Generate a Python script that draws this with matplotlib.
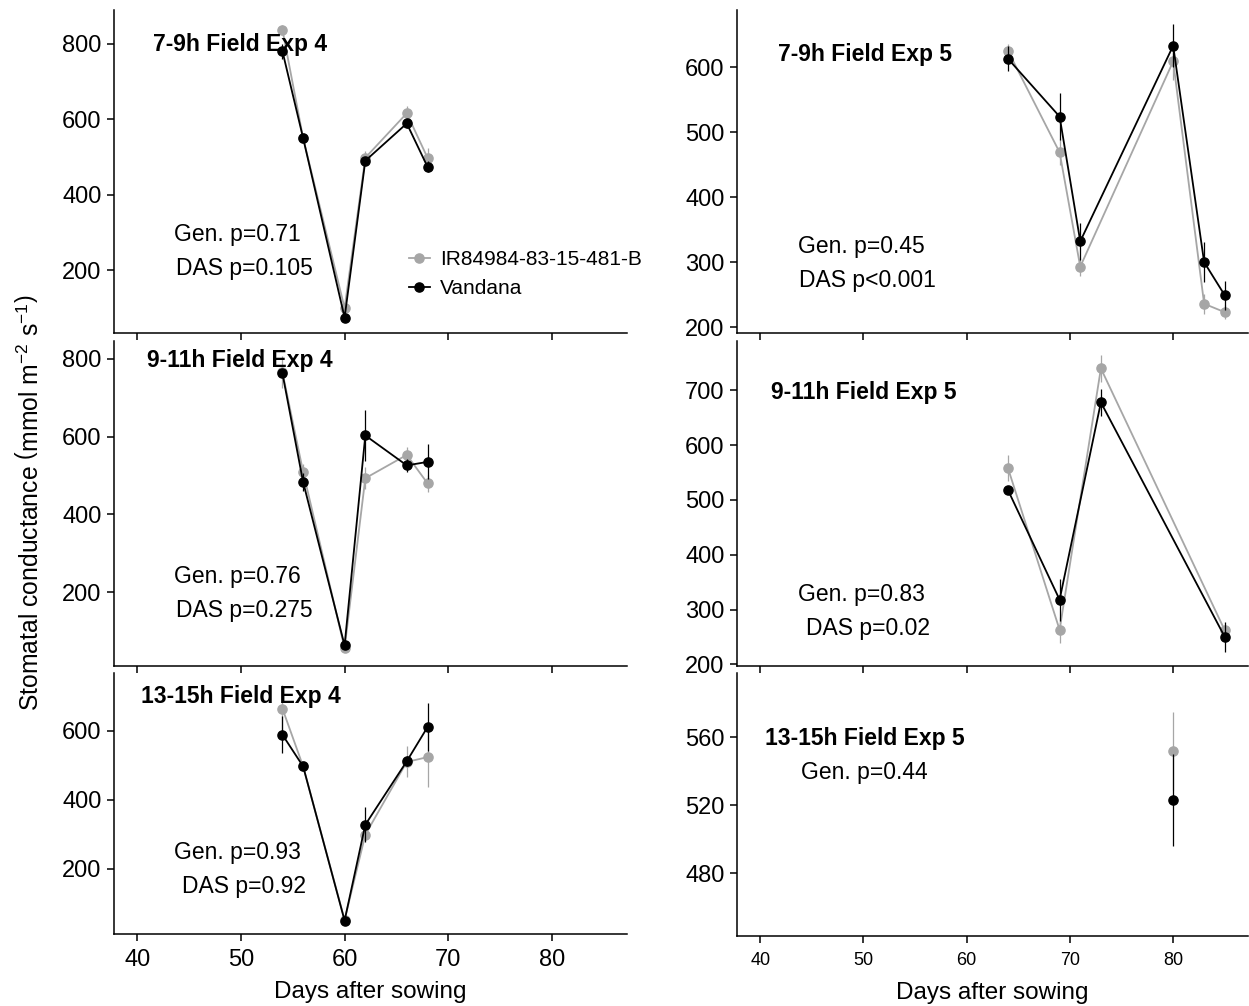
import matplotlib
matplotlib.use("Agg")
import matplotlib.pyplot as plt

plt.rcParams['font.family'] = ['Liberation Sans', 'DejaVu Sans']
plt.rcParams['mathtext.fontset'] = 'custom'
plt.rcParams['mathtext.rm'] = 'Liberation Sans'
plt.rcParams['mathtext.it'] = 'Liberation Sans:italic'

GRAY = '#a6a6a6'
BLACK = '#000000'
GENOTYPES = ['IR84984-83-15-481-B', 'Vandana']

# days after sowing
das_exp4 = [54, 56, 60, 62, 66, 68]
das_exp5_79 = [64, 69, 71, 80, 83, 85]
das_exp5_911 = [64, 69, 73, 85]
das_exp5_1315 = [80]

# Field Exp 4
exp4_79_ir = [838, 550, 99, 498, 616, 498]
exp4_79_ir_se = [13, 8, 8, 18, 18, 27]
exp4_79_va = [781, 550, 74, 490, 589, 474]
exp4_79_va_se = [20, 10, 5, 10, 12, 15]

exp4_911_ir = [766, 509, 56, 493, 553, 480]
exp4_911_ir_se = [42, 20, 8, 28, 20, 22]
exp4_911_va = [763, 483, 63, 603, 526, 535]
exp4_911_va_se = [8, 24, 8, 66, 17, 45]

exp4_1315_ir = [665, 497, 52, 299, 510, 524]
exp4_1315_ir_se = [68, 10, 5, 12, 45, 86]
exp4_1315_va = [589, 497, 50, 328, 512, 611]
exp4_1315_va_se = [53, 10, 5, 51, 15, 69]

# Field Exp 5
exp5_79_ir = [625, 469, 293, 609, 236, 223]
exp5_79_ir_se = [10, 20, 14, 28, 15, 11]
exp5_79_va = [613, 524, 332, 633, 300, 249]
exp5_79_va_se = [19, 36, 29, 33, 31, 22]

exp5_911_ir = [558, 263, 740, 262]
exp5_911_ir_se = [24, 24, 24, 8]
exp5_911_va = [518, 318, 678, 250]
exp5_911_va_se = [8, 38, 25, 27]

exp5_1315_ir = [552]
exp5_1315_ir_se = [23]
exp5_1315_va = [523]
exp5_1315_va_se = [27]

W, H = 1249, 1006


def px_box(x0, y0, x1, y1):
    return [x0 / W, 1 - y1 / H, (x1 - x0) / W, (y1 - y0) / H]


def draw_panel(ax, x, ir, ir_se, va, va_se, ylim, yticks, xlabels, xlab_size,
               tickpad=6, labelpad=7):
    for y, se, col in [(ir, ir_se, GRAY), (va, va_se, BLACK)]:
        ax.errorbar(x, y, yerr=se, fmt='none', ecolor=col, elinewidth=0.9)
        ax.plot(x, y, '-o', color=col, lw=1.3, ms=6.6)
    ax.set_xlim(37.75, 87.25)
    ax.set_ylim(*ylim)
    ax.set_xticks([40, 50, 60, 70, 80])
    ax.set_yticks(yticks)
    for s in ['top', 'right']:
        ax.spines[s].set_visible(False)
    for s in ['left', 'bottom']:
        ax.spines[s].set_linewidth(1.1)
    ax.tick_params(direction='out', length=5, width=1.1, labelsize=17, pad=4)
    if xlabels:
        ax.tick_params(axis='x', labelsize=xlab_size, pad=tickpad)
        ax.set_xlabel('Days after sowing', fontsize=17.5, labelpad=labelpad)
    else:
        ax.tick_params(axis='x', labelbottom=False)


fig = plt.figure(figsize=(W / 100, H / 100), dpi=100)

ax1 = fig.add_axes(px_box(114, 10, 627, 333))
draw_panel(ax1, das_exp4, exp4_79_ir, exp4_79_ir_se, exp4_79_va, exp4_79_va_se,
           (33, 890), [200, 400, 600, 800], False, 17)
ax2 = fig.add_axes(px_box(737, 10, 1248, 333))
draw_panel(ax2, das_exp5_79, exp5_79_ir, exp5_79_ir_se, exp5_79_va, exp5_79_va_se,
           (191, 688), [200, 300, 400, 500, 600], False, 17)
ax3 = fig.add_axes(px_box(114, 341, 627, 666))
draw_panel(ax3, das_exp4, exp4_911_ir, exp4_911_ir_se, exp4_911_va, exp4_911_va_se,
           (10, 846), [200, 400, 600, 800], False, 17)
ax4 = fig.add_axes(px_box(737, 341, 1248, 666))
draw_panel(ax4, das_exp5_911, exp5_911_ir, exp5_911_ir_se, exp5_911_va, exp5_911_va_se,
           (197, 790), [200, 300, 400, 500, 600, 700], False, 17)
ax5 = fig.add_axes(px_box(114, 673, 627, 934))
draw_panel(ax5, das_exp4, exp4_1315_ir, exp4_1315_ir_se, exp4_1315_va, exp4_1315_va_se,
           (11, 768), [200, 400, 600], True, 17, tickpad=6, labelpad=7)
ax6 = fig.add_axes(px_box(737, 673, 1248, 936))
draw_panel(ax6, das_exp5_1315, exp5_1315_ir, exp5_1315_ir_se, exp5_1315_va, exp5_1315_va_se,
           (443, 598), [480, 520, 560], True, 13, tickpad=6.5, labelpad=9.5)

# legend (lines+points only)
h = [ax1.lines[0], ax1.lines[1]]
ax1.legend(h, GENOTYPES, loc='center left', bbox_to_anchor=(409 / W, 1 - 274 / H),
           bbox_transform=fig.transFigure, frameon=False, borderpad=0, borderaxespad=0,
           handlelength=1.0, handletextpad=0.5, labelspacing=0.5, fontsize=15,
           numpoints=1)

# panel annotations: (text, x px, y px, bold)
notes = [
    ('7-9h Field Exp 4', 240, 44, True), ('Gen. p=0.71', 237, 235, False), ('DAS p=0.105', 244, 269, False),
    ('7-9h Field Exp 5', 865, 55, True), ('Gen. p=0.45', 861, 246, False), ('DAS p<0.001', 867, 280, False),
    ('9-11h Field Exp 4', 240, 361, True), ('Gen. p=0.76', 237, 577, False), ('DAS p=0.275', 244, 611, False),
    ('9-11h Field Exp 5', 864, 392, True), ('Gen. p=0.83', 861, 595, False), ('DAS p=0.02', 868, 629, False),
    ('13-15h Field Exp 4', 241, 697, True), ('Gen. p=0.93', 237, 852, False), ('DAS p=0.92', 244, 886, False),
    ('13-15h Field Exp 5', 865, 738, True), ('Gen. p=0.44', 864, 773, False),
]
for txt, x, y, bold in notes:
    fig.text(x / W, 1 - y / H, txt, ha='center', va='center', fontsize=16.5,
             fontweight='bold' if bold else 'normal')

fig.text(30 / W, 1 - 503 / H,
         r'Stomatal conductance $\left(\mathrm{mmol\ m^{-2}\ s^{-1}}\right)$',
         rotation=90, ha='center', va='center', fontsize=17.8)

fig.savefig('out.png', dpi=100)
